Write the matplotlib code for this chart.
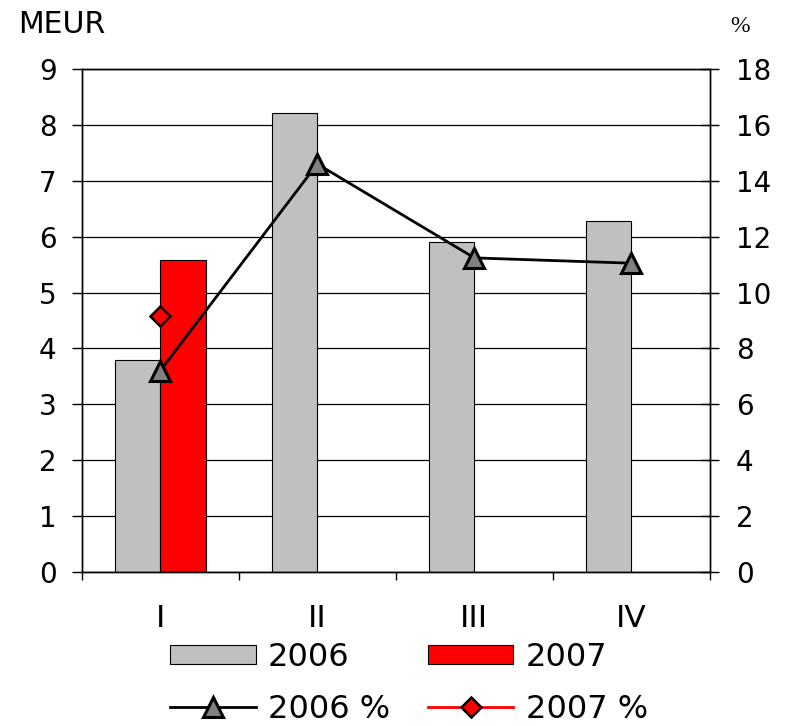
import matplotlib
matplotlib.use("Agg")
import matplotlib.pyplot as plt
import numpy as np

plt.rcParams['font.family'] = ['DejaVu Sans']

categories = ["I", "II", "III", "IV"]
meur_2006 = [3.80, 8.22, 5.90, 6.28]
meur_2007 = [5.58]
pct_2006 = [7.2, 14.6, 11.24, 11.05]
pct_2007 = [9.16]

fig = plt.figure(figsize=(7.85, 7.26), dpi=100)
ax = fig.add_axes([0.104, 0.2121, 0.8005, 0.6929])
ax2 = ax.twinx()

x = np.arange(len(categories)) + 0.5
w = 0.29

ax.set_axisbelow(True)
ax.yaxis.grid(True, color='black', linewidth=0.9)
b1 = ax.bar(x - w / 2, meur_2006, width=w, color='#C0C0C0', edgecolor='black', linewidth=0.8, label='2006', zorder=2)
b2 = ax.bar(x[:len(meur_2007)] + w / 2, meur_2007, width=w, color='#FF0000', edgecolor='black', linewidth=0.8, label='2007', zorder=2)

l1, = ax2.plot(x, pct_2006, color='black', linewidth=2, marker='^', markersize=14,
               markerfacecolor='#808080', markeredgecolor='black', markeredgewidth=2.2, label='2006 %')
l2, = ax2.plot(x[:len(pct_2007)], pct_2007, color='red', linewidth=2, marker='D', markersize=10,
               markerfacecolor='red', markeredgecolor='black', markeredgewidth=1.8, label='2007 %')

ax.set_xlim(0, 4)
ax.set_ylim(0, 9)
ax2.set_ylim(0, 18)
ax.set_yticks(np.arange(0, 10, 1))
ax2.set_yticks(np.arange(0, 19, 2))

ax.set_xticks(np.arange(0, 5, 1))
ax.set_xticklabels([])
ax.set_xticks(x, minor=True)
ax.set_xticklabels(categories, minor=True)
ax.tick_params(axis='x', which='major', direction='out', length=6, width=1)
ax.tick_params(axis='x', which='minor', length=0, pad=23, labelsize=22.5)
ax.tick_params(axis='y', direction='out', length=7, width=1, labelsize=20, pad=11)
ax2.tick_params(axis='y', direction='inout', length=13, width=1, labelsize=20, pad=12)

for a in (ax, ax2):
    for s in a.spines.values():
        s.set_linewidth(1)
        s.set_color('black')

fig.text(0.023, 0.954, 'MEUR', fontsize=21.5, ha='left', va='baseline')
fig.text(0.9427, 0.956, '%', fontsize=17, ha='center', va='baseline', family=['Liberation Serif'])

fig.legend([b1, l1, b2, l2], ['2006', '2006 %', '2007', '2007 %'], ncol=2,
           loc='center', bbox_to_anchor=(0.521, 0.059), frameon=False, fontsize=23,
           handlelength=2.67, handleheight=0.55, handletextpad=0.38, columnspacing=1.2,
           labelspacing=0.65, borderpad=0.1)

fig.savefig('out.png', dpi=100)
